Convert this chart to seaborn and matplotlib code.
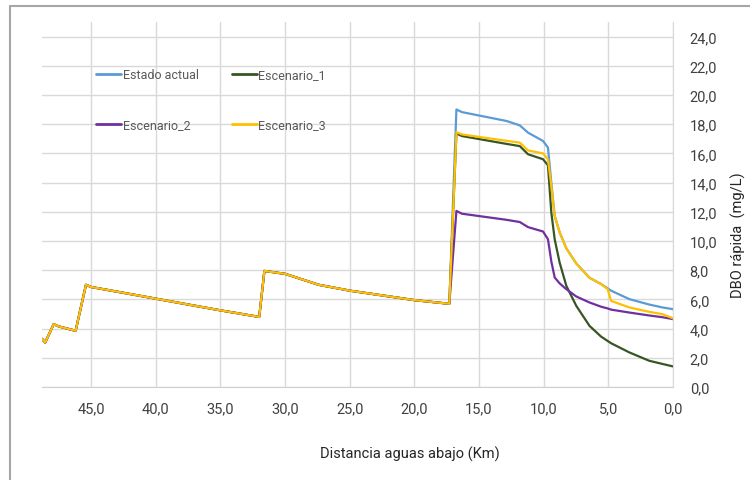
import numpy as np
import pandas as pd
import matplotlib
matplotlib.use("Agg")
import matplotlib.pyplot as plt
import seaborn as sns
from matplotlib.ticker import FuncFormatter, MultipleLocator
from matplotlib.lines import Line2D

# ---------------------------------------------------------------------------
# Data
# ---------------------------------------------------------------------------
distancia = [48.8, 48.55, 47.9, 47.5, 46.2, 45.4, 45.0, 40.0, 35.0, 32.0,
             31.6, 30.0, 27.4, 25.0, 20.0, 17.3,
             16.75, 16.33, 12.87, 11.85, 11.21, 10.05, 9.67, 9.41, 9.15, 8.77,
             8.25, 7.48, 6.46, 5.56, 5.05, 4.79, 3.38, 1.85, 0.82, 0.0]

tramo_comun = [3.3, 3.05, 4.3, 4.15, 3.85, 7.0, 6.85, 6.05, 5.25, 4.8,
               7.95, 7.75, 7.0, 6.6, 5.95, 5.7]

estado_actual = tramo_comun + [19.01, 18.83, 18.22, 17.92, 17.42, 16.85, 16.4,
                               14.0, 11.72, 10.6, 9.5, 8.46, 7.48, 7.05,
                               6.75, 6.6, 6.02, 5.65, 5.45, 5.33]
escenario_1 = tramo_comun + [17.37, 17.19, 16.65, 16.5, 15.94, 15.6, 15.18,
                             11.95, 10.12, 8.53, 6.93, 5.56, 4.19, 3.45,
                             3.15, 3.0, 2.37, 1.8, 1.58, 1.41]
escenario_2 = tramo_comun + [12.06, 11.87, 11.45, 11.3, 10.95, 10.65, 10.12,
                             8.6, 7.5, 7.1, 6.7, 6.2, 5.79, 5.5,
                             5.38, 5.3, 5.1, 4.9, 4.78, 4.65]
escenario_3 = tramo_comun + [17.46, 17.3, 16.86, 16.74, 16.2, 16.0, 15.6,
                             13.77, 11.72, 10.6, 9.5, 8.46, 7.48, 7.05,
                             6.7, 5.9, 5.45, 5.15, 4.99, 4.7]

series = {
    "Estado actual": estado_actual,
    "Escenario_1": escenario_1,
    "Escenario_2": escenario_2,
    "Escenario_3": escenario_3,
}
colores = {
    "Estado actual": "#5B9BD5",
    "Escenario_1": "#375623",
    "Escenario_2": "#7030A0",
    "Escenario_3": "#FFC000",
}

df = pd.concat(
    [pd.DataFrame({"x": distancia, "y": vals, "Serie": name})
     for name, vals in series.items()],
    ignore_index=True,
)

# ---------------------------------------------------------------------------
# Plot
# ---------------------------------------------------------------------------
sns.set_style("white")
plt.rcParams["font.family"] = ["Roboto", "DejaVu Sans"]

fig = plt.figure(figsize=(7.5, 4.81), dpi=100)
ax = fig.add_axes([42 / 750, 1 - 388 / 481, 631 / 750, 365 / 481])

sns.lineplot(data=df, x="x", y="y", hue="Serie", palette=colores,
             estimator=None, sort=False, linewidth=1.6, legend=False, ax=ax)

ax.set_xlim(48.8, 0)
ax.set_ylim(0, 25)
ax.xaxis.set_major_locator(MultipleLocator(5))
ax.yaxis.set_major_locator(MultipleLocator(2))
fmt = FuncFormatter(lambda v, p: f"{v:.1f}".replace(".", ","))
ax.xaxis.set_major_formatter(fmt)
ax.yaxis.set_major_formatter(fmt)
ax.yaxis.tick_right()
ax.tick_params(axis="both", length=0, labelsize=10.5, colors="#404040")
ax.tick_params(axis="x", pad=10)
ax.tick_params(axis="y", pad=12)

ax.grid(True, color="#d9d9d9", linewidth=1)
ax.set_axisbelow(True)
for s in ["top", "left"]:
    ax.spines[s].set_visible(False)
ax.spines["bottom"].set_color("#d0d0d0")
ax.spines["right"].set_color("#d9d9d9")

ax.set_xlabel("Distancia aguas abajo (Km)", fontsize=10.5, color="#262626")
ax.xaxis.set_label_coords(0.583, -0.16)
ax.set_ylabel("DBO rápida  (mg/L)", fontsize=10.5, color="#262626")
ax.yaxis.set_label_position("right")
ax.yaxis.set_label_coords(1.092, 0.42)

# legend filled row by row: matplotlib fills columns, so reorder
orden = ["Estado actual", "Escenario_2", "Escenario_1", "Escenario_3"]
handles = [Line2D([], [], color=colores[n], linewidth=2) for n in orden]
leg = ax.legend(handles, orden, ncol=2, frameon=False,
                loc="upper left", bbox_to_anchor=(0.068, 0.905),
                fontsize=9, labelspacing=3.0, columnspacing=2.6,
                handlelength=2.0, handletextpad=0.15)
for t in leg.get_texts():
    t.set_color("#595959")

# outer frame (only top and left edges are visible in the reference)
fig.add_artist(Line2D([10 / 750, 1], [1 - 7 / 481, 1 - 7 / 481],
                      color="#a6a6a6", linewidth=1.5, transform=fig.transFigure))
fig.add_artist(Line2D([10 / 750, 10 / 750], [0, 1 - 7 / 481],
                      color="#a6a6a6", linewidth=1.5, transform=fig.transFigure))

fig.savefig("out.png", dpi=100)
